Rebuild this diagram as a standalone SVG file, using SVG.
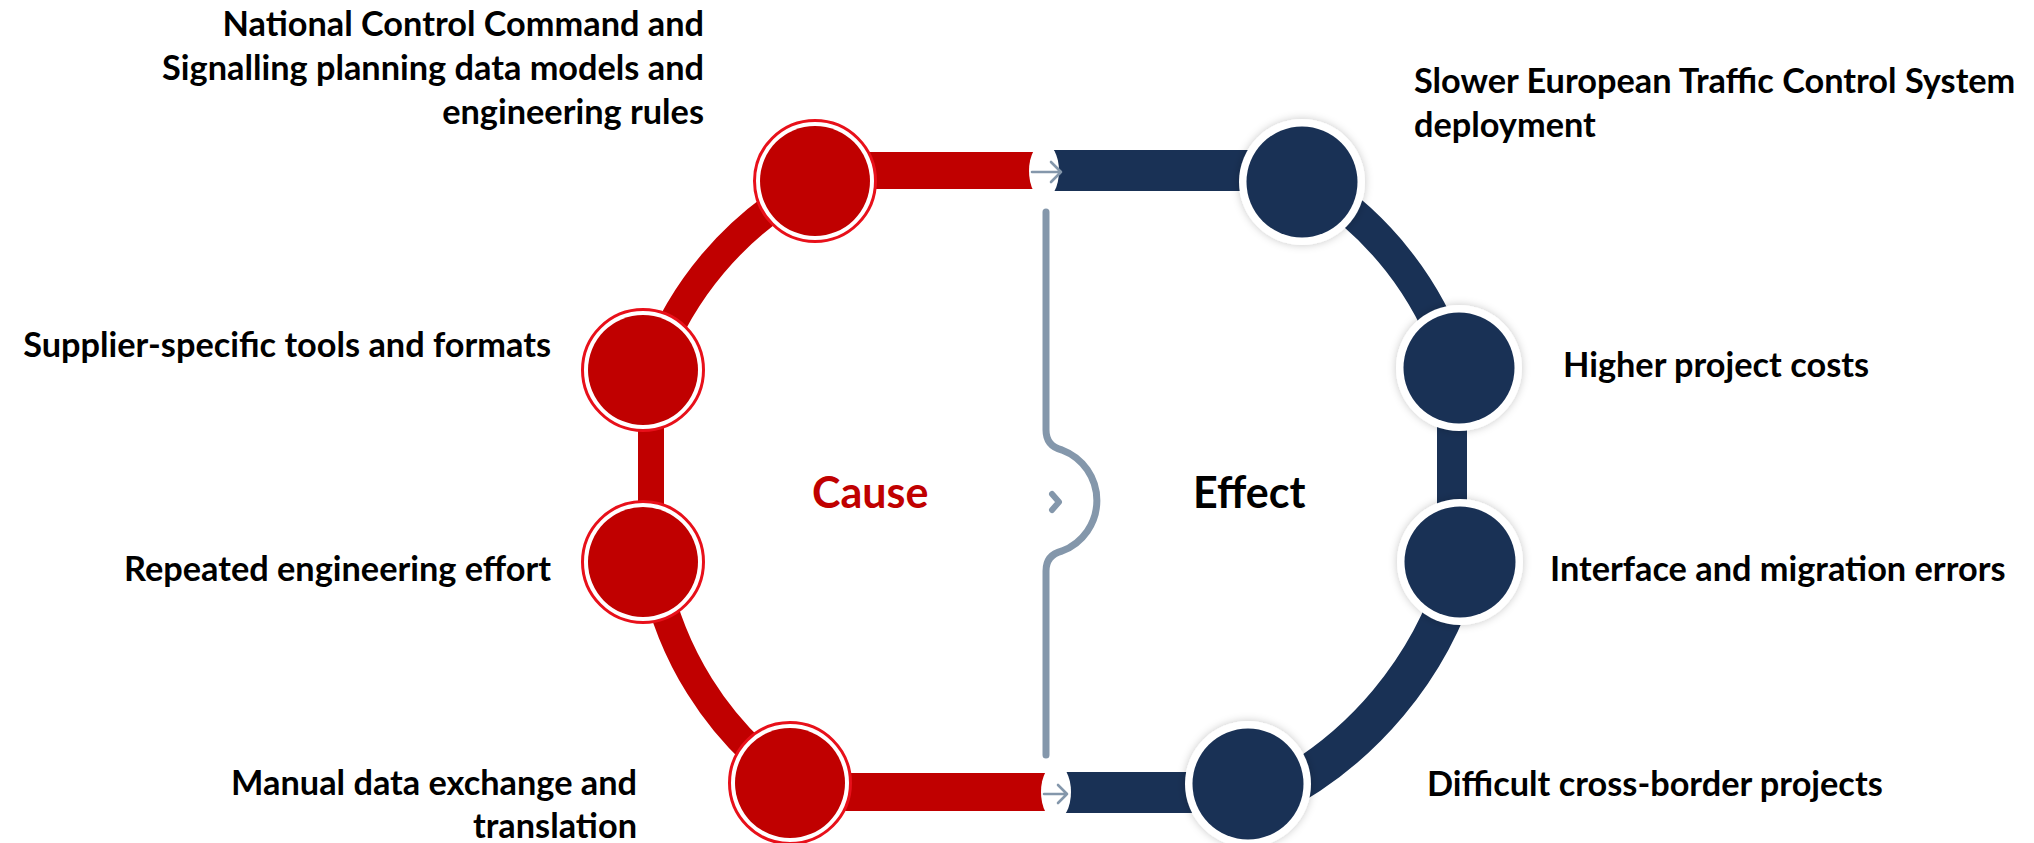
<svg xmlns="http://www.w3.org/2000/svg" width="2034" height="843" viewBox="0 0 2034 843">
<defs>
<filter id="sh" x="-30%" y="-30%" width="160%" height="160%">
<feDropShadow dx="0" dy="0" stdDeviation="4" flood-color="#000" flood-opacity="0.22"/>
</filter>
<style>
.lbl{font-family:Lato,"Liberation Sans",sans-serif;font-weight:bold;font-size:34.3px;fill:#000}
.big{font-family:Lato,"Liberation Sans",sans-serif;font-weight:bold;font-size:43px}
.red{fill:#C00000}
.navy{fill:#193155}
.rarc{fill:none;stroke:#C00000;stroke-width:29}
.barc{fill:none;stroke:#193155}
.gray{fill:none;stroke:#8497AB;stroke-linecap:round;stroke-linejoin:round}
.ring{fill:#fff;stroke:#E8101A;stroke-width:3}
.wring{fill:#fff;filter:url(#sh)}
</style>
</defs>
<rect width="2034" height="843" fill="#fff"/>
<g id="connectors">
<rect class="red" x="860" y="152" width="190" height="37"/>
<rect class="red" x="840" y="773" width="220" height="38"/>
<rect class="red" x="638" y="365" width="26" height="200"/>
<path class="rarc" d="M800,190 A340,340 0 0 0 655,362"/>
<path class="rarc" d="M655,575 A340,340 0 0 0 780,775"/>
<rect class="navy" x="1040" y="150" width="262" height="41"/>
<rect class="navy" x="1052" y="772" width="200" height="41"/>
<rect class="navy" x="1437" y="365" width="30" height="200"/>
<path class="barc" stroke-width="32" d="M1315,185 A340,340 0 0 1 1452,360"/>
<path class="barc" stroke-width="40" d="M1460,570 A376,376 0 0 1 1270,797"/>
<ellipse cx="1044" cy="171" rx="15" ry="28" fill="#fff"/>
<ellipse cx="1056" cy="792" rx="15" ry="28" fill="#fff"/>
<path class="gray" stroke-width="2.6" d="M1032,172 H1061 M1051,162 L1061,172 L1051,182"/>
<path class="gray" stroke-width="2.6" d="M1044,794 H1067 M1058,785 L1067,794 L1058,803"/>
<path class="gray" stroke-width="7" d="M1046,212 V430 Q1046,446 1062,450 A54,54 0 0 1 1062,551 Q1046,555 1046,571 V755"/>
<path class="gray" stroke-width="6" d="M1052,494 L1059,502 L1052,510"/>
</g>
<g id="cause-1"><circle class="ring" cx="815" cy="181" r="60.5"/><circle class="red" cx="815" cy="181" r="55"/></g>
<g id="cause-2"><circle class="ring" cx="643" cy="370" r="60.5"/><circle class="red" cx="643" cy="370" r="55"/></g>
<g id="cause-3"><circle class="ring" cx="643" cy="562" r="60.5"/><circle class="red" cx="643" cy="562" r="55"/></g>
<g id="cause-4"><circle class="ring" cx="790" cy="783" r="60.5"/><circle class="red" cx="790" cy="783" r="55"/></g>
<g id="effect-1"><circle class="wring" cx="1302" cy="182" r="63"/><circle class="navy" cx="1302" cy="182" r="55.5"/></g>
<g id="effect-2"><circle class="wring" cx="1459" cy="368" r="63"/><circle class="navy" cx="1459" cy="368" r="55.5"/></g>
<g id="effect-3"><circle class="wring" cx="1460" cy="562" r="63"/><circle class="navy" cx="1460" cy="562" r="55.5"/></g>
<g id="effect-4"><circle class="wring" cx="1248" cy="784" r="63"/><circle class="navy" cx="1248" cy="784" r="55.5"/></g>
<g id="labels">
<text class="lbl" text-anchor="end"><tspan x="704" y="36">National Control Command and</tspan><tspan x="704" y="80">Signalling planning data models and</tspan><tspan x="704" y="124">engineering rules</tspan></text>
<text class="lbl" text-anchor="end" x="551" y="357">Supplier-specific tools and formats</text>
<text class="lbl" text-anchor="end" x="551" y="581">Repeated engineering effort</text>
<text class="lbl" text-anchor="end"><tspan x="637" y="795">Manual data exchange and</tspan><tspan x="637" y="838">translation</tspan></text>
<text class="lbl"><tspan x="1414" y="93">Slower European Traffic Control System</tspan><tspan x="1414" y="137">deployment</tspan></text>
<text class="lbl" x="1563" y="377">Higher project costs</text>
<text class="lbl" x="1550" y="581">Interface and migration errors</text>
<text class="lbl" x="1427" y="796">Difficult cross-border projects</text>
<text class="big red" x="812" y="508">Cause</text>
<text class="big" x="1193" y="508" fill="#000">Effect</text>
</g>
</svg>
